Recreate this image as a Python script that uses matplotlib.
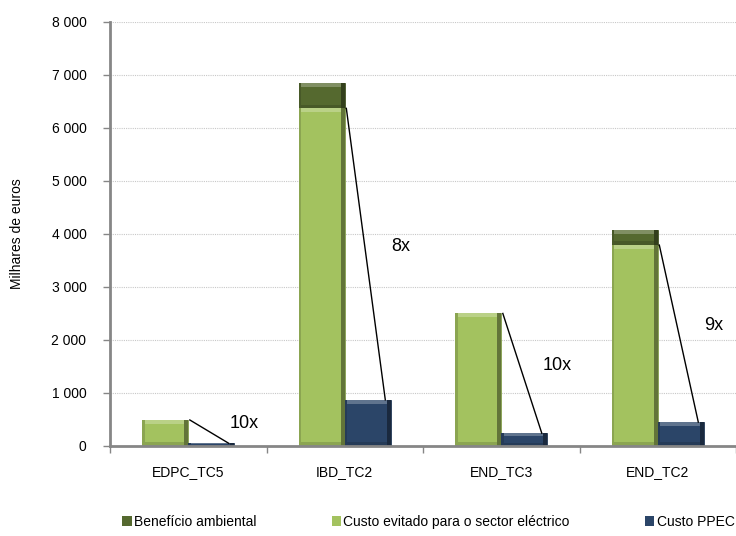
import matplotlib
matplotlib.use("Agg")
import matplotlib.pyplot as plt
from matplotlib.patches import Rectangle
from matplotlib.ticker import FuncFormatter, MultipleLocator
import numpy as np

plt.rcParams['font.family'] = ['Liberation Sans', 'DejaVu Sans']

programas = ['EDPC_TC5', 'IBD_TC2', 'END_TC3', 'END_TC2']
custo_evitado = [490, 6370, 2500, 3790]
beneficio_ambiental = [0, 480, 0, 280]
custo_ppec = [49, 870, 240, 450]

series_labels = ['Benefício ambiental', 'Custo evitado para o sector eléctrico', 'Custo PPEC']

c_benef = '#55692F'
c_evit = '#A3C25F'
c_ppec = '#2B4568'


def shade(color, f):
    rgb = np.array(matplotlib.colors.to_rgb(color))
    if f > 1:
        rgb = rgb + (1 - rgb) * (f - 1)
    else:
        rgb = rgb * f
    return tuple(np.clip(rgb, 0, 1))


def bevel_bar(ax, x, bottom, height, width, color):
    # barra com um pequeno relevo (topo claro, lado direito escuro)
    if height <= 0:
        return
    ax.add_patch(Rectangle((x, bottom), width, height, facecolor=color,
                           edgecolor=shade(color, 0.8), lw=0.6, zorder=3))
    bx = width * 0.09
    by = min(70, height * 0.25)
    ax.add_patch(Rectangle((x + width - bx, bottom), bx, height,
                           facecolor=shade(color, 0.6), lw=0, zorder=3.1))
    ax.add_patch(Rectangle((x, bottom), bx * 0.6, height,
                           facecolor=shade(color, 0.85), lw=0, zorder=3.1))
    ax.add_patch(Rectangle((x + bx * 0.6, bottom + height - by), width - bx * 1.6, by,
                           facecolor=shade(color, 1.25), lw=0, zorder=3.2))
    ax.add_patch(Rectangle((x + bx * 0.6, bottom), width - bx * 1.6, by,
                           facecolor=shade(color, 0.85), lw=0, zorder=3.2))


fig = plt.figure(figsize=(7.36, 5.36), dpi=100)
ax = fig.add_axes([0.1495, 0.168, 0.8505, 0.791])

x = np.arange(len(programas))
w = 0.294

for i in x:
    bevel_bar(ax, i - w, 0, custo_evitado[i], w, c_evit)
    bevel_bar(ax, i - w, custo_evitado[i], beneficio_ambiental[i], w, c_benef)
    bevel_bar(ax, i, 0, custo_ppec[i], w, c_ppec)

    # linha entre o custo evitado e o custo do programa
    ax.plot([i + 0.01, i + w - 0.035], [custo_evitado[i], custo_ppec[i]],
            color='black', lw=1, zorder=4)
    total = custo_evitado[i] + beneficio_ambiental[i]
    ratio = int(round(total / custo_ppec[i]))
    ax.text(i + 0.36, (custo_evitado[i] + custo_ppec[i]) / 2 + 150, f'{ratio}x',
            fontsize=13, ha='center', va='center', zorder=5)

ax.set_xlim(-0.5, 3.5)
ax.set_ylim(0, 8000)
ax.yaxis.set_major_locator(MultipleLocator(1000))
ax.yaxis.set_major_formatter(FuncFormatter(lambda v, p: f'{int(v):,}'.replace(',', ' ')))
ax.set_xticks(x)
ax.set_xticklabels(programas, fontsize=10)
ax.set_xticks(np.arange(-0.5, 3.6, 1), minor=True)
ax.tick_params(axis='x', which='major', length=0, pad=14)
ax.tick_params(axis='x', which='minor', length=5, color='#868686', width=1)
ax.tick_params(axis='y', length=5, color='#868686', width=1, labelsize=10, pad=12)

for s in ['top', 'right']:
    ax.spines[s].set_visible(False)
for s in ['left', 'bottom']:
    ax.spines[s].set_color('#868686')
    ax.spines[s].set_linewidth(2)
    ax.spines[s].set_zorder(6)

for v in range(1000, 8001, 1000):
    ax.axhline(v, color='#C8C8C8', lw=0.8, ls=(0, (1, 1)), zorder=1)

ax.set_ylabel('Milhares de euros', fontsize=10, labelpad=20)

handles = [Rectangle((0, 0), 1, 1, facecolor=c) for c in (c_benef, c_evit, c_ppec)]
fig.legend(handles, series_labels, loc='center', bbox_to_anchor=(0.582, 0.026), ncol=3,
           frameon=False, fontsize=10, handlelength=0.7, handleheight=0.7,
           handletextpad=0.15, columnspacing=5.4)

fig.savefig('out.png', dpi=100)
